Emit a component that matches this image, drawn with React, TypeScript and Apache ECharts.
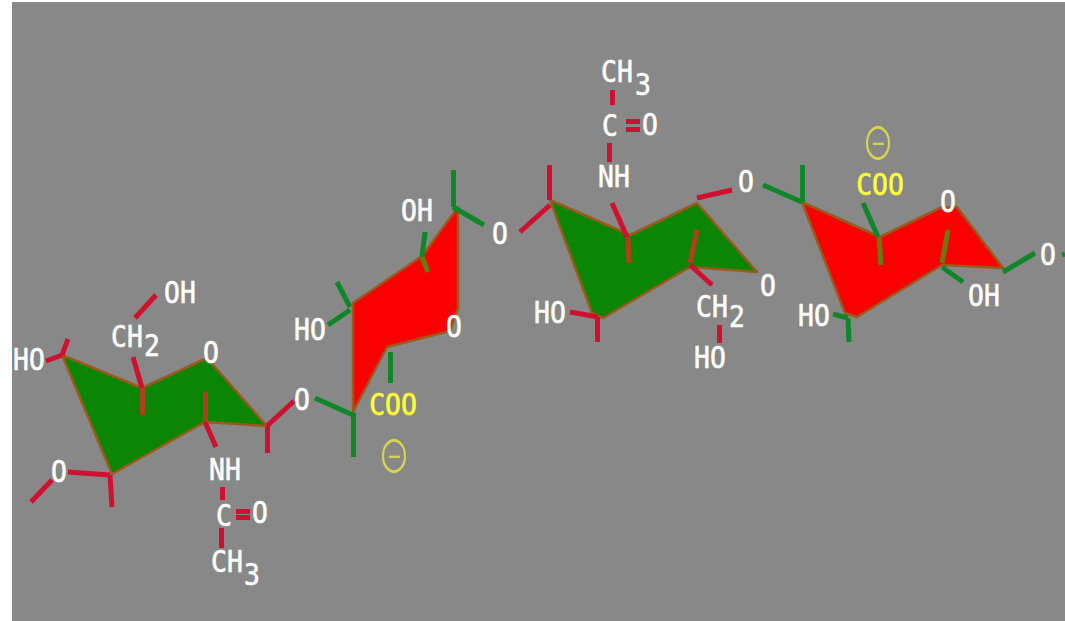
import React, { useEffect, useRef } from "react";
import * as echarts from "echarts";

type P = [number, number];

const greenRings: P[][] = [
  [[62, 355], [142, 388], [207, 358], [267, 426], [205, 422], [112, 474]],
  [[550, 200], [630, 235], [697, 203], [757, 272], [690, 267], [603, 318], [592, 313]],
];
const redRings: P[][] = [
  [[458, 207], [422, 256], [353, 303], [353, 412], [387, 347], [450, 331], [458, 308]],
  [[802, 202], [880, 237], [940, 208], [957, 207], [1003, 268], [942, 265], [857, 317], [845, 313]],
];

const redBonds: [P, P][] = [
  [[46, 361], [62, 355]], [[62, 355], [68, 339]],
  [[133, 357], [142, 388]],
  [[135, 318], [156, 295]],
  [[68, 472], [110, 475]], [[110, 475], [112, 507]],
  [[31, 502], [52, 480]],
  [[205, 422], [216, 447]],
  [[222, 487], [222, 500]],
  [[236, 511], [250, 511]], [[236, 517], [250, 517]],
  [[221, 528], [221, 548]],
  [[267, 426], [294, 401]], [[267, 426], [267, 453]],
  [[520, 232], [550, 205]], [[549, 165], [549, 200]],
  [[612, 203], [627, 237]],
  [[609, 143], [609, 162]],
  [[612, 90], [612, 105]],
  [[626, 121], [640, 121]], [[626, 129], [640, 129]],
  [[697, 198], [732, 190]],
  [[690, 265], [712, 285]],
  [[719, 325], [719, 343]],
  [[570, 312], [598, 317]], [[597, 317], [597, 342]],
];
const redBondsOnRing: [P, P][] = [
  [[142, 388], [142, 415]],
  [[205, 392], [205, 422]],
  [[628, 237], [629, 263]],
  [[697, 230], [690, 263]],
];
const greenBonds: [P, P][] = [
  [[315, 398], [353, 415]], [[353, 413], [353, 457]],
  [[453, 170], [453, 207]], [[453, 207], [484, 225]],
  [[425, 232], [422, 257]],
  [[328, 325], [350, 310]], [[337, 282], [350, 307]],
  [[390, 352], [390, 383]],
  [[763, 185], [802, 202]], [[802, 165], [802, 202]],
  [[863, 203], [878, 237]],
  [[942, 267], [963, 282]],
  [[1003, 272], [1035, 253]],
  [[833, 314], [848, 318]], [[848, 318], [849, 342]],
  [[1062, 255], [1065, 254]],
];
const greenBondsOnRing: [P, P][] = [
  [[422, 257], [428, 272]],
  [[879, 238], [881, 265]],
  [[948, 230], [942, 263]],
];

const whiteLabels: [number, number, string][] = [
  [29, 360, "HO"], [127, 337, "CH"], [180, 293, "OH"], [211, 353, "O"],
  [302, 400, "O"], [59, 472, "O"], [225, 470, "NH"], [224, 516, "C"],
  [260, 513, "O"], [227, 562, "CH"],
  [417, 211, "OH"], [310, 330, "HO"], [500, 234, "O"], [454, 327, "O"],
  [617, 72, "CH"], [610, 126, "C"], [650, 125, "O"], [614, 177, "NH"],
  [746, 182, "O"], [768, 286, "O"], [550, 313, "HO"], [712, 307, "CH"],
  [710, 358, "HO"],
  [948, 202, "O"], [1048, 255, "O"], [984, 296, "OH"], [814, 316, "HO"],
  [152, 346, "2"], [252, 575, "3"], [643, 85, "3"], [737, 317, "2"],
];
const yellowLabels: [number, number, string][] = [
  [393, 405, "COO"], [880, 185, "COO"],
];
const chargeMarks: [number, number, string][] = [
  [394, 456, "−"], [878, 143, "−"],
];

const FONT = "'DejaVu Sans Mono', monospace";

const ringSeries = (rings: P[][], fill: string) => ({
  type: "custom",
  coordinateSystem: "cartesian2d",
  silent: true,
  data: rings.map((_, i) => [i]),
  encode: { x: [], y: [] },
  renderItem: (params: any, api: any) => ({
    type: "polygon",
    shape: { points: rings[params.dataIndex].map((p) => api.coord(p)) },
    style: { fill, stroke: "#9a5a1c", lineWidth: 2.5, lineJoin: "round" },
  }),
});

const bondSeries = (bonds: [P, P][], color: string) => ({
  type: "lines",
  coordinateSystem: "cartesian2d",
  silent: true,
  polyline: false,
  data: bonds.map((b) => ({ coords: b })),
  lineStyle: { color, width: 5, opacity: 1, cap: "butt" },
});

const labelSeries = (rows: [number, number, string][], color: string, size: number) => ({
  type: "custom",
  coordinateSystem: "cartesian2d",
  silent: true,
  data: rows.map((_, i) => [i]),
  encode: { x: [], y: [] },
  renderItem: (params: any, api: any) => {
    const r = rows[params.dataIndex];
    const [x, y] = api.coord([r[0], r[1]]);
    return {
      type: "text",
      x,
      y,
      scaleX: 0.88,
      scaleY: 1,
      style: {
        text: r[2],
        fill: color,
        stroke: color,
        lineWidth: 0.6,
        font: `${size}px ${FONT}`,
        align: "center",
        verticalAlign: "middle",
      },
    };
  },
});

export default function App() {
  const ref = useRef<HTMLDivElement>(null);
  useEffect(() => {
    document.body.style.margin = "0";
    document.body.style.background = "#ffffff";
    const chart = echarts.init(ref.current!, null, { renderer: "svg" });
    chart.setOption({
      animation: false,
      grid: { left: 12, right: 0, top: 2, bottom: 0, show: true, backgroundColor: "#888888", borderWidth: 0 },
      xAxis: { type: "value", min: 12, max: 1065, show: false },
      yAxis: { type: "value", min: 2, max: 621, inverse: true, show: false },
      tooltip: { show: false },
      series: [
        ringSeries(greenRings, "#0b8505"),
        ringSeries(redRings, "#fb0000"),
        bondSeries(redBonds, "#cf1030"),
        bondSeries(redBondsOnRing, "#b0401c"),
        bondSeries(greenBonds, "#10862a"),
        bondSeries(greenBondsOnRing, "#6a7a10"),
        labelSeries(whiteLabels, "#ffffff", 30),
        labelSeries(yellowLabels, "#ffff33", 30),
        {
          type: "scatter",
          silent: true,
          symbol: "circle",
          symbolSize: [22, 31],
          data: chargeMarks.map((r) => ({ value: [r[0], r[1]], name: r[2] })),
          itemStyle: { color: "rgba(0,0,0,0)", borderColor: "#e8e840", borderWidth: 2.5 },
          label: {
            show: true,
            position: "inside",
            formatter: (p: any) => p.name,
            color: "#e8e840",
            fontFamily: FONT,
            fontWeight: "bold",
            fontSize: 20,
          },
        },
      ],
    });
    return () => chart.dispose();
  }, []);
  return <div ref={ref} style={{ width: 1065, height: 621 }} />;
}
